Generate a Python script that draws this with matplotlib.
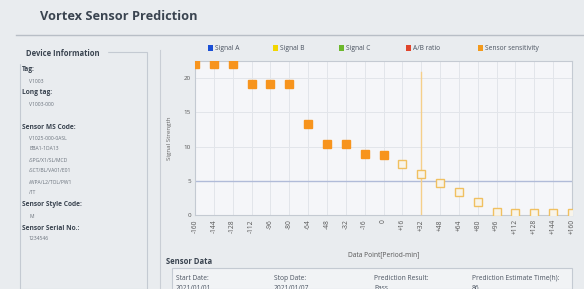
import matplotlib.pyplot as plt
from matplotlib.patches import Rectangle
from matplotlib.lines import Line2D

plt.rcParams['font.family'] = ['Open Sans', 'DejaVu Sans']

# data
periods = [-160, -144, -128, -112, -96, -80, -64, -48, -32, -16, 0,
           16, 32, 48, 64, 80, 96, 112, 128, 144, 160]
sensitivity = [22.0, 22.0, 22.0, 19.2, 19.2, 19.2, 13.3, 10.4, 10.4, 8.9, 8.8,
               7.4, 6.0, 4.7, 3.3, 1.9, 0.5, 0.25, 0.25, 0.25, 0.25]
n_measured = 11          # first 11 points measured, rest predicted
tick_labels = ['-160', '-144', '-128', '-112', '-96', '-80', '-64', '-48', '-32', '-16', '0',
               '+16', '+32', '+48', '+64', '+80', '+96', '+112', '+128', '+144', '+160']
threshold = 5
now_line = 31.5

legend_names = ['Signal A', 'Signal B', 'Signal C', 'A/B ratio', 'Sensor sensitivity']
legend_colors = ['#1a4fd6', '#f2d600', '#6cb82c', '#e0452b', '#f39a1c']

device_info = [
    ('Tag:', ['V1003']),
    ('Long tag:', ['V1003-000', '']),
    ('Sensor MS Code:', ['V1025-000-0ASL', 'BBA1-1DA13', '/SPG/X1/SL/MCD',
                         '/SCT/BL/VA01/E01', '/WPA/L2/TOL/PW1', '/TT']),
    ('Sensor Style Code:', ['M']),
    ('Sensor Serial No.:', ['1234546']),
]
sensor_cols = ['Start Date:', 'Stop Date:', 'Prediction Result:', 'Prediction Estimate Time(h):']
sensor_vals = ['2021/01/01', '2021/01/07', 'Pass', '86']

W, H = 584, 289
fig = plt.figure(figsize=(W / 100, H / 100), dpi=100)
fig.patch.set_facecolor('#e9ecef')

def px(x, y):
    return x / W, 1 - y / H

def ftext(x, y, s, **kw):
    fx, fy = px(x, y)
    fig.text(fx, fy, s, va='center', **kw)

# header
ftext(40, 16, 'Vortex Sensor Prediction', fontsize=9.2, fontweight='bold', color='#3a4450')
fig.add_artist(Line2D([16 / W, 1], [1 - 35 / H] * 2, color='#b8bec6', lw=1))
fig.add_artist(Line2D([160 / W] * 2, [1 - 50 / H, 0], color='#c9ced5', lw=0.8))

# left panel
x0, y0 = px(20, 52)
fig.add_artist(Rectangle((x0, 0), (147 - 20) / W, y0, transform=fig.transFigure,
                         facecolor='none', edgecolor='#c4cad2', lw=0.8))
ftext(24, 53, ' Device Information ', fontsize=5.5, fontweight='bold', color='#3a4450',
      backgroundcolor='#e9ecef')
y = 70
for head, vals in device_info:
    ftext(22, y, head, fontsize=4.8, fontweight='bold', color='#3a4450')
    y += 11
    for v in vals:
        ftext(29, y, v, fontsize=3.6, color='#6a727c')
        y += 11
    y += 1

# chart
ax = fig.add_axes([195 / W, 1 - 215 / H, (572 - 195) / W, (215 - 61) / H])
ax.set_facecolor('#f5f6f9')
ax.plot(periods[:n_measured], sensitivity[:n_measured], 's', ms=5.5,
        color='#f7941d', mec='#f7941d', zorder=3)
ax.plot(periods[n_measured:], sensitivity[n_measured:], 's', ms=5.5,
        mfc='#f8f4ea', mec='#f0c060', mew=1, zorder=3)
ax.axhline(threshold, color='#b0bbd8', lw=1, zorder=2)
ax.axvline(now_line, ymax=0.93, color='#f5cf8a', lw=1, zorder=2)
ax.set_xlim(-160, 160)
ax.set_ylim(0, 22.5)
ax.set_xticks(periods)
ax.set_xticklabels(tick_labels, rotation=90, fontsize=4.8, color='#555')
ax.set_yticks([0, 5, 10, 15, 20])
ax.tick_params(axis='y', labelsize=4.5, colors='#555', length=0, pad=3)
ax.tick_params(axis='x', length=0, pad=3)
ax.grid(True, color='#e2e5ea', lw=0.7)
ax.set_axisbelow(True)
for s in ax.spines.values():
    s.set_color('#c4cad2')
    s.set_linewidth(0.8)
ax.set_ylabel('Signal Strength', fontsize=4.5, color='#666', labelpad=8)
ax.set_xlabel('Data Point[Period-min]', fontsize=4.8, color='#555', labelpad=12)

# legend
lx = [208, 273, 339, 406, 478]
for x, name, c in zip(lx, legend_names, legend_colors):
    fx, fy = px(x, 48)
    fig.add_artist(Rectangle((fx, fy - 2.5 / H), 5 / W, 5 / H, transform=fig.transFigure,
                             facecolor=c, edgecolor='none'))
    ftext(x + 7, 48, name, fontsize=4.8, color='#4a5360')

# sensor data
ftext(166, 262, 'Sensor Data', fontsize=5.5, fontweight='bold', color='#3a4450')
bx, by = px(172, 268)
fig.add_artist(Rectangle((bx, 0), (572 - 172) / W, by, transform=fig.transFigure,
                         facecolor='#f1f3f5', edgecolor='#c4cad2', lw=0.8))
for x, c, v in zip([176, 274, 374, 472], sensor_cols, sensor_vals):
    ftext(x, 278, c, fontsize=4.8, color='#4a5360')
    ftext(x, 288, v, fontsize=4.8, color='#4a5360')

fig.savefig('out.png', dpi=100, facecolor=fig.get_facecolor())
